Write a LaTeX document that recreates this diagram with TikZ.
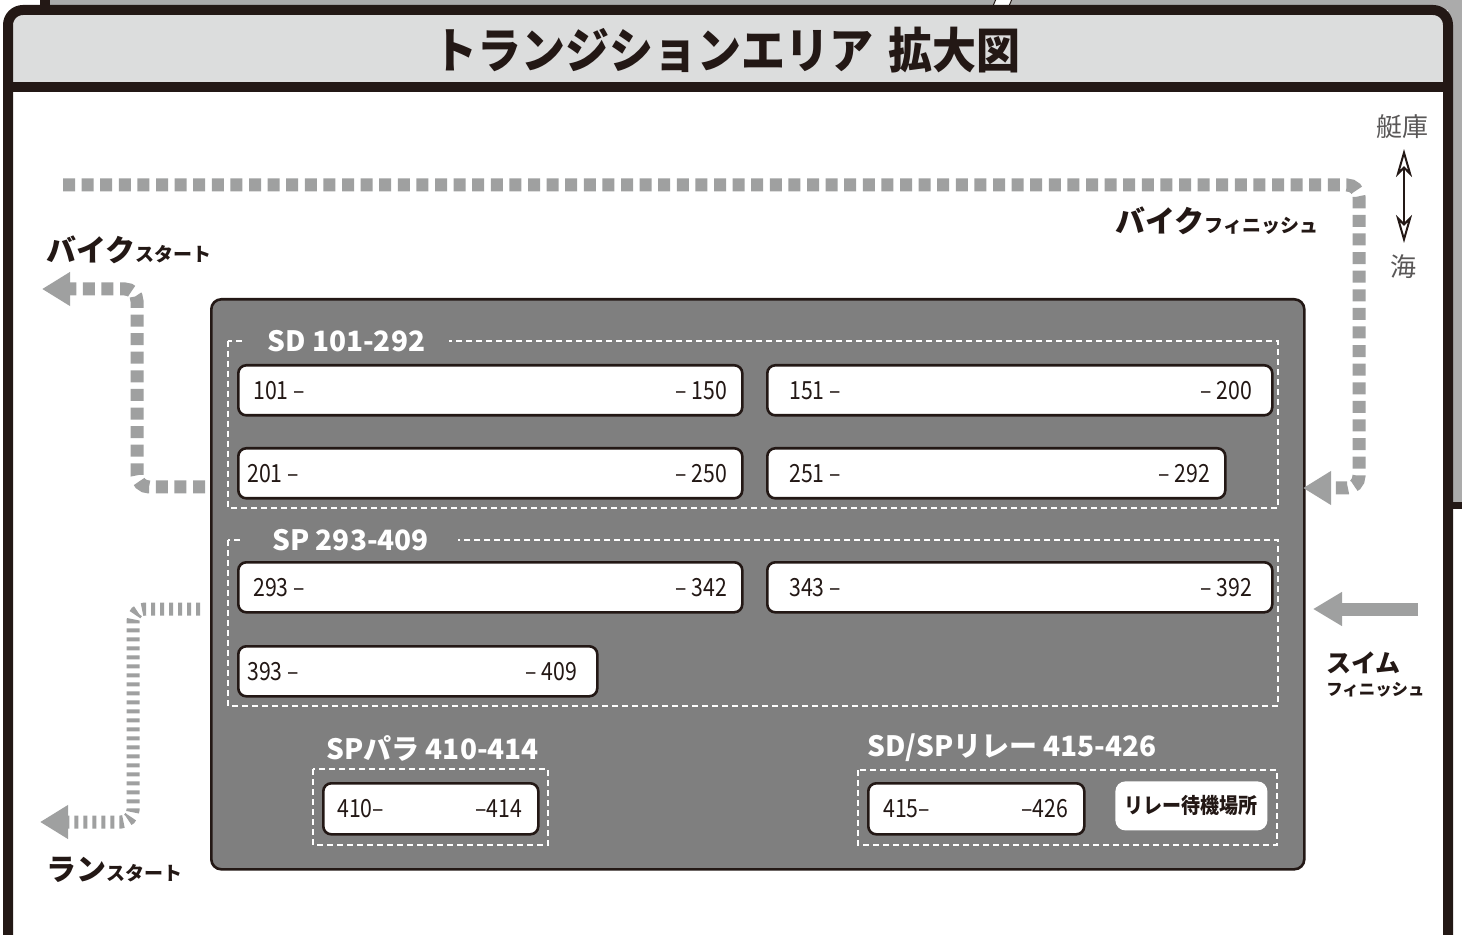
\documentclass[tikz,border=0pt]{standalone}
\usepackage{fontspec}
\usepackage{graphicx}
\setmainfont{Noto Sans CJK JP}
\usetikzlibrary{arrows.meta}
\definecolor{ink}{HTML}{231815}
\definecolor{dotgray}{HTML}{9FA0A0}
\definecolor{titlegray}{HTML}{DCDDDD}
\definecolor{boxgray}{HTML}{7F7F7F}
\definecolor{bggray}{HTML}{ABABAB}
\definecolor{textgray}{HTML}{595757}
\newcommand\bigkana{\bfseries\fontsize{15}{18}\selectfont}
\newcommand\smallkana{\bfseries\fontsize{9.5}{11}\selectfont}
\newcommand\nar[1]{\scalebox{0.85}[1]{#1}}
\tikzset{
  numbox/.style={draw=ink, line width=1.3pt, fill=white, rounded corners=4pt, inner sep=0pt},
  grp/.style={draw=white, line width=0.9pt, dash pattern=on 3pt off 2pt},
  grplabel/.style={text=white, font=\bfseries\fontsize{14}{17}\selectfont, inner sep=0pt},
  num/.style={text=ink, font=\fontsize{12.5}{14}\selectfont, inner sep=0pt},
  bikepath/.style={draw=dotgray, line width=6.5pt, dash pattern=on 6pt off 3.3pt, rounded corners=6pt, -{Triangle[length=14pt,width=16pt]}},
  runpath/.style={draw=dotgray, line width=6.5pt, dash pattern=on 2pt off 2.5pt, rounded corners=6pt, -{Triangle[length=14pt,width=16pt]}},
  lbl/.style={text=ink, inner sep=0pt, anchor=base west},
}
% name, x1, y1, x2, y2, left text, right text, left pad(px), right pad(px)
\newcommand\nbox[9]{%
  \node[numbox, anchor=north west, minimum width={(#4-#2)*0.5pt}, minimum height={(#5-#3)*0.5pt}] (#1) at (#2,#3) {};
  \node[num, anchor=west] (#1l) at ([xshift=#8*0.5pt]#1.west) {\nar{#6}};
  \node[num, anchor=east] (#1r) at ([xshift=-#9*0.5pt]#1.east) {\nar{#7}};
}
\begin{document}
\begin{tikzpicture}[x=0.5pt, y=-0.5pt]
\useasboundingbox (0,0) rectangle (1462,935);
\clip (0,0) rectangle (1462,935);
% background beyond the frame
\fill[bggray] (50,0) rectangle (1462,12);
\fill[bggray] (1440,0) rectangle (1462,505);
\fill[ink] (1448,502) rectangle (1462,509);
\fill[ink] (40,0) rectangle (50,10);
\filldraw[fill=white, draw=ink, line width=0.5pt] (996,-1) -- (1012,-1) -- (1009,6) -- (993,6) -- cycle;
% frame
\fill[white] (8,10) rectangle (1448,970);
\fill[titlegray, rounded corners=7.5pt] (8,87) -- (8,10) -- (1448,10) -- (1448,87) -- cycle;
\fill[ink] (8,82) rectangle (1448,92);
\draw[ink, line width=5pt, rounded corners=7.5pt] (8,970) -- (8,10) -- (1448,10) -- (1448,970);
\node[text=ink, font=\bfseries\fontsize{22}{26}\selectfont, inner sep=0pt] (title) at (727,50) {\scalebox{1}[1.1]{トランジションエリア\hspace{0.35em}拡大図}};

% dark area
\node[fill=boxgray, draw=ink, line width=1.3pt, rounded corners=5pt, anchor=north west, minimum width=546.5pt, minimum height=285pt, inner sep=0pt] (area) at (210,298) {};

% SD group
\draw[grp] (228,341) rectangle (1278,508);
\node[grplabel, fill=boxgray, inner xsep=12pt, inner ysep=3pt, anchor=west] (sdl) at (243,341) {SD 101-292};
\nbox{a}{237}{364}{741}{414}{101 –}{– 150}{16}{16}
\nbox{b}{766}{364}{1271}{414}{151 –}{– 200}{23}{21}
\nbox{c}{237}{447}{741}{497}{201 –}{– 250}{10}{16}
\nbox{d}{766}{447}{1224}{497}{251 –}{– 292}{23}{16}

% SP group
\draw[grp] (228,540) rectangle (1278,706);
\node[grplabel, fill=boxgray, inner xsep=14.5pt, inner ysep=3pt, anchor=west] (spl) at (243,540) {SP 293-409};
\nbox{e}{237}{561}{741}{611}{293 –}{– 342}{16}{16}
\nbox{f}{766}{561}{1271}{611}{343 –}{– 392}{23}{21}
\nbox{g}{237}{645}{596}{695}{393 –}{– 409}{10}{21}

% SP para
\node[grplabel, anchor=west] (ppl) at (326,748) {SPパラ 410-414};
\draw[grp] (313,769) rectangle (548,845);
\nbox{h}{322}{782}{537}{833}{410–}{–414}{15}{17}

% relay
\node[grplabel, anchor=west] (rll) at (867,748) {SD/SPリレー 415-426};
\draw[grp] (858,770) rectangle (1277,845);
\nbox{i}{867}{782}{1083}{833}{415–}{–426}{16}{17}
\node[fill=white, rounded corners=5pt, anchor=north west, minimum width=76pt, minimum height=24.5pt, inner sep=0pt, text=ink, font=\bfseries\fontsize{9.5}{11}\selectfont] (relay) at (1115,781) {\scalebox{1}[1.12]{リレー待機場所}};

% routes
\coordinate (bf0) at (63,185);
\coordinate (bf1) at (1359,185);
\coordinate (bf2) at (1359,488);
\coordinate (bf3) at (1303,488);
\draw[bikepath] (bf0) -- (bf1) -- (bf2) -- (bf3);
\coordinate (bs0) at (205,487);
\coordinate (bs1) at (137,487);
\coordinate (bs2) at (137,289);
\coordinate (bs3) at (42,289);
\draw[bikepath] (bs0) -- (bs1) -- (bs2) -- (bs3);
\coordinate (rs0) at (200,609);
\coordinate (rs1) at (133,609);
\coordinate (rs2) at (133,822);
\coordinate (rs3) at (40,822);
\draw[runpath] (rs0) -- (rs1) -- (rs2) -- (rs3);
\coordinate (sw0) at (1418,609);
\coordinate (sw1) at (1313,609);
\draw[dotgray, line width=6.5pt, -{Triangle[length=14.5pt,width=16pt]}] (sw0) -- (sw1);

% labels
\node[lbl] (bikestart) at (46,262) {{\bigkana バイク}{\smallkana スタート}};
\node[lbl] (bikefin) at (1115,233) {{\bigkana バイク}{\smallkana フィニッシュ}};
\node[lbl] (runstart) at (46,880) {{\bigkana ラン}{\smallkana スタート}};
\node[lbl, font=\bfseries\fontsize{12.5}{14}\selectfont] (swim) at (1326,672) {スイム};
\node[lbl, font=\bfseries\fontsize{8.2}{10}\selectfont] (swimfin) at (1326,695) {フィニッシュ};

% boathouse / sea
\node[text=textgray, font=\fontsize{13}{15}\selectfont, inner sep=0pt] (boat) at (1402,127) {艇庫};
\node[text=textgray, font=\fontsize{13}{15}\selectfont, inner sep=0pt] (sea) at (1403,267) {海};
\draw[ink, line width=1pt, {Stealth[open, fill=white, length=14pt, width=8pt, inset=4pt]}-{Stealth[open, fill=white, length=14pt, width=8pt, inset=4pt]}, shorten <=5pt, shorten >=6pt] (1404,139) -- (1404,255);
\end{tikzpicture}
\end{document}
